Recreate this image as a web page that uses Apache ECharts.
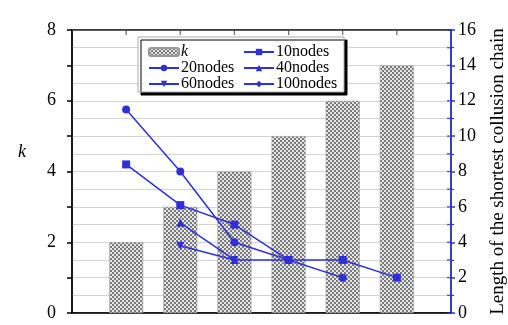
<!DOCTYPE html>
<html><head><meta charset="utf-8">
<script src="https://cdn.jsdelivr.net/npm/echarts@6/dist/echarts.min.js"></script>
<style>html,body{margin:0;padding:0;background:#fff}#c{width:508px;height:325px}</style>
</head><body><div id="c"></div>
<script>
// ---- data ----
var kPositions = [1, 2, 3, 4, 5, 6];
var kValues = [2, 3, 4, 5, 6, 7];
var seriesNames = ['10nodes', '20nodes', '40nodes', '60nodes', '100nodes'];
var x10 = [1, 2, 3, 4, 5, 6];       var y10 = [8.4, 6.1, 5, 3, 3, 2];
var x20 = [1, 2, 3, 4, 5];          var y20 = [11.5, 8, 4, 3, 2];
var x40 = [2, 3];                   var y40 = [5.1, 3];
var x60 = [2, 3];                   var y60 = [3.8, 3];
var x100 = [3, 4];                  var y100 = [3, 3];
var leftTicks = [0, 2, 4, 6, 8];
var rightTicks = [0, 2, 4, 6, 8, 10, 12, 14, 16];
var topTickPositions = [1, 2, 3, 4, 5, 6];
var rightInnerTicks = [0, 1, 2, 3, 4, 5, 6, 7, 8, 9, 10, 11, 12, 13, 14, 15, 16];
var xMax = 7, leftMax = 8, rightMax = 16;

function pairs(xs, ys) { return xs.map(function (x, i) { return [x, ys[i]]; }); }

// checker pattern for bars
var pc = document.createElement('canvas');
pc.width = 4; pc.height = 4;
var g = pc.getContext('2d');
g.fillStyle = '#e6e6e6'; g.fillRect(0, 0, 4, 4);
g.fillStyle = '#7a7a7a'; g.fillRect(0, 0, 2, 2); g.fillRect(2, 2, 2, 2);

var BLUE = '#2f2fdc';
var FONT = 'Liberation Serif';
var chart = echarts.init(document.getElementById('c'), null, {renderer: 'canvas'});

function lineSeries(name, data, symbol) {
  return {
    name: name, type: 'line', xAxisIndex: 0, yAxisIndex: 1, data: data,
    symbol: symbol, symbolSize: 8, showSymbol: true,
    lineStyle: {color: BLUE, width: 1.5}, itemStyle: {color: BLUE},
    z: 5, animation: false
  };
}

chart.setOption({
  animation: false,
  grid: {left: 72, right: 57, top: 30, bottom: 12, containLabel: false, outerBoundsMode: 'none',
         show: true, borderColor: '#333', borderWidth: 1.5, backgroundColor: 'transparent'},
  graphic: [
    {type: 'rect', z: 3, shape: {x: 138, y: 37, width: 206, height: 55},
     style: {fill: '#fff', stroke: '#aaa', lineWidth: 1, shadowColor: '#000', shadowOffsetX: 3, shadowOffsetY: 3, shadowBlur: 0}},
    {type: 'text', left: 18, top: 143, z: 10,
     style: {text: 'k', font: 'italic 18px "Liberation Serif"', fill: '#000'}}
  ],
  legend: [
    {orient: 'vertical', left: 143, top: 39, itemWidth: 30, itemHeight: 8, itemGap: 0, z: 5,
     data: ['k', '20nodes', '60nodes'],
     formatter: function (n) { return n === 'k' ? '{i|k}' : n; },
     textStyle: {fontFamily: FONT, fontSize: 16, color: '#000', padding: [0, 0, 0, -3], lineHeight: 16,
       rich: {i: {fontFamily: FONT, fontSize: 16, fontStyle: 'italic', lineHeight: 16}}}},
    {orient: 'vertical', left: 238, top: 39, itemWidth: 30, itemHeight: 8, itemGap: 0, z: 5,
     data: ['10nodes', '40nodes', '100nodes'],
     textStyle: {fontFamily: FONT, fontSize: 16, color: '#000', padding: [0, 0, 0, -3], lineHeight: 16}}
  ],
  xAxis: [
    {type: 'value', min: 0, max: xMax, interval: 1, position: 'bottom',
     axisLine: {show: true, onZero: false, lineStyle: {color: '#000', width: 1.5}},
     axisTick: {show: false}, axisLabel: {show: false}, splitLine: {show: false}}
  ],
  yAxis: [
    {type: 'value', min: 0, max: leftMax, interval: 1, position: 'left',
     axisLine: {show: true, onZero: false, lineStyle: {color: '#000', width: 1.5}},
     axisTick: {show: true, length: 5, lineStyle: {color: '#000', width: 1.5}},
     axisLabel: {margin: 16, fontFamily: FONT, fontSize: 18, color: '#000',
       formatter: function (v) { return leftTicks.indexOf(v) >= 0 ? String(v) : ''; }},
     splitLine: {show: true, lineStyle: {color: '#d4d4d4', width: 1}},
     minorTick: {show: false, splitNumber: 2},
     minorSplitLine: {show: true, lineStyle: {color: '#d4d4d4', width: 1}}},
    {type: 'value', min: 0, max: rightMax, interval: 2, position: 'right',
     name: 'Length of the shortest collusion chain', nameLocation: 'middle', nameRotate: 90, nameGap: 38,
     nameTextStyle: {fontFamily: FONT, fontSize: 19, color: '#000'},
     axisLine: {show: true, onZero: false, lineStyle: {color: BLUE, width: 1.5}},
     axisTick: {show: true, length: 4, lineStyle: {color: BLUE, width: 1.5}},
     minorTick: {show: true, splitNumber: 2, length: 3, lineStyle: {color: BLUE, width: 1.2}},
     axisLabel: {margin: 7, fontFamily: FONT, fontSize: 18, color: '#000',
       formatter: function (v) { return rightTicks.indexOf(v) >= 0 ? String(v) : ''; }},
     splitLine: {show: false}}
  ],
  series: [
    {name: 'k', type: 'bar', xAxisIndex: 0, yAxisIndex: 0, barWidth: 34,
     data: pairs(kPositions, kValues),
     itemStyle: {color: {image: pc, repeat: 'repeat'}, borderColor: '#999', borderWidth: 0.5}, z: 2,
     markLine: {silent: true, symbol: 'none', animation: false, label: {show: false},
       lineStyle: {color: '#333', width: 1.5, type: 'solid'}, data: [{yAxis: leftMax}]}},
    lineSeries(seriesNames[0], pairs(x10, y10), 'rect'),
    lineSeries(seriesNames[1], pairs(x20, y20), 'circle'),
    lineSeries(seriesNames[2], pairs(x40, y40), 'triangle'),
    lineSeries(seriesNames[3], pairs(x60, y60), 'path://M0,0 L10,0 L5,9 Z'),
    lineSeries(seriesNames[4], pairs(x100, y100), 'diamond'),
    {name: '_topTicks', type: 'scatter', xAxisIndex: 0, yAxisIndex: 0, silent: true, z: 6,
     data: topTickPositions.map(function (x) { return [x, leftMax]; }),
     symbol: 'rect', symbolSize: [1.2, 5], symbolOffset: [0, 2.5], itemStyle: {color: '#444'}},
    {name: '_rightInner', type: 'scatter', xAxisIndex: 0, yAxisIndex: 1, silent: true, z: 6,
     data: rightInnerTicks.map(function (v) { return [xMax, v]; }),
     symbol: 'rect', symbolSize: [4, 1.4], symbolOffset: [-2, 0], itemStyle: {color: BLUE}}
  ]
});
</script></body></html>
